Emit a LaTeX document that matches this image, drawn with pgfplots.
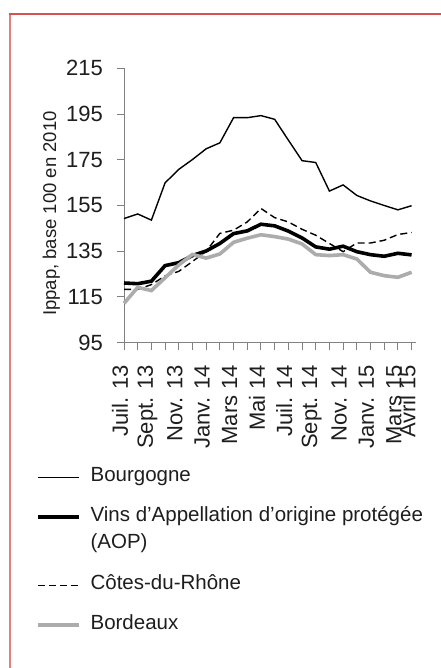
\documentclass[border=0pt]{standalone}
\usepackage{fontspec}
\setmainfont{Liberation Sans}
\usepackage{pgfplots}
\usepackage{pgfplotstable}
\pgfplotsset{compat=1.18}
\definecolor{framered}{RGB}{214,82,82}
\definecolor{framered2}{RGB}{226,128,128}
\definecolor{axgray}{RGB}{128,128,128}
\definecolor{bordgray}{RGB}{172,172,172}
\definecolor{txt}{RGB}{30,30,30}
\newcommand{\strutA}{\rule[-5bp]{0pt}{20bp}}
\newcommand{\strutB}{\rule[-6.8bp]{0pt}{6.8bp}}

\pgfplotstableread{
i bour aop cdr bord
0 149.3 121.1 118.3 112.2
1 151.3 120.8 118.3 119.2
2 148.6 121.9 120.4 117.8
3 164.9 128.7 124.2 123.4
4 170.8 130.0 126.2 129.0
5 175.1 133.1 130.5 133.6
6 179.8 135.1 135.0 132.0
7 182.4 138.4 142.8 133.8
8 193.4 142.7 144.2 138.9
9 193.4 143.9 147.8 140.7
10 194.3 146.8 153.7 142.2
11 192.7 146.1 149.7 141.4
12 183.6 143.8 147.8 140.3
13 174.6 140.8 144.6 138.2
14 173.8 136.9 142.0 133.5
15 161.3 135.9 138.4 133.1
16 164.0 137.2 134.8 133.5
17 159.4 134.8 138.6 131.6
18 157.0 133.5 138.6 125.8
19 155.0 132.8 139.8 124.3
20 153.1 134.1 142.3 123.6
21 154.9 133.4 143.2 125.8
}\datatable

\begin{document}
\begin{tikzpicture}[x=1bp,y=1bp]
\useasboundingbox (0,0) rectangle (441,668);
\fill[white] (0,0) rectangle (441,668);
\draw[framered2, line width=2bp] (10.3,-5) -- (10.3,653.7);
\draw[framered, line width=2bp] (9.3,653.7) -- (450,653.7);
\begin{axis}[
  at={(124bp,325.3bp)}, anchor=south west,
  scale only axis, width=291.7bp, height=274.4bp,
  xmin=0, xmax=21.3, ymin=95, ymax=215,
  ytick={95,115,...,215},
  xtick={0,...,21},
  xticklabels={{Juil. 13},{},{Sept. 13},{},{Nov. 13},{},{Janv. 14},{},{Mars 14},{},{Mai 14},{},{Juil. 14},{},{Sept. 14},{},{Nov. 14},{},{Janv. 15},{},{Mars 15},{Avril 15}},
  axis lines*=left,
  axis line style={axgray, line width=1bp},
  tick style={axgray, line width=1bp},
  tick align=outside,
  major tick length=7bp,
  tick label style={font=\fontsize{22bp}{25bp}\selectfont, text=txt},
  yticklabel style={anchor=east, inner sep=0pt, xshift=-14bp},
  xticklabel style={rotate=90, anchor=east, inner sep=0pt, xshift=-15bp, yshift=4bp},
  /pgf/number format/assume math mode=true,
  clip=false,
  legend style={
    at={(-0.3017,-0.4519)}, anchor=north west, draw=none, fill=none,
    inner sep=0pt, outer sep=0pt,
    font=\fontsize{20.5bp}{27bp}\selectfont, text=txt,
    row sep=19.5bp,
    cells={anchor=base west},
    nodes={inner sep=0pt, anchor=base west, text depth=},
    /tikz/every odd column/.append style={column sep=10bp},
  },
  legend image code/.code={\draw[#1] (0bp,4bp) -- (41bp,4bp);},
]
\addplot[black, line width=1.4bp] table[x=i, y=bour] {\datatable};
\addlegendentry{\strutA Bourgogne}
\addplot[black, line width=3.6bp] table[x=i, y=aop] {\datatable};
\addlegendentry{\vtop{\hbox{\strutA Vins d’Appellation d’origine protégée}\hbox{\strutB (AOP)}}}
\addplot[black, line width=1.4bp, dash pattern=on 7bp off 4bp] table[x=i, y=cdr] {\datatable};
\addlegendentry{\strutA Côtes-du-Rhône}
\addplot[bordgray, line width=3.6bp] table[x=i, y=bord] {\datatable};
\addlegendentry{\strutA Bordeaux}
\end{axis}
\node[rotate=90, anchor=base, font=\fontsize{18.5bp}{22bp}\selectfont, text=txt] at (56bp,454.5bp) {Ippap, base 100 en 2010};
\end{tikzpicture}
\end{document}
